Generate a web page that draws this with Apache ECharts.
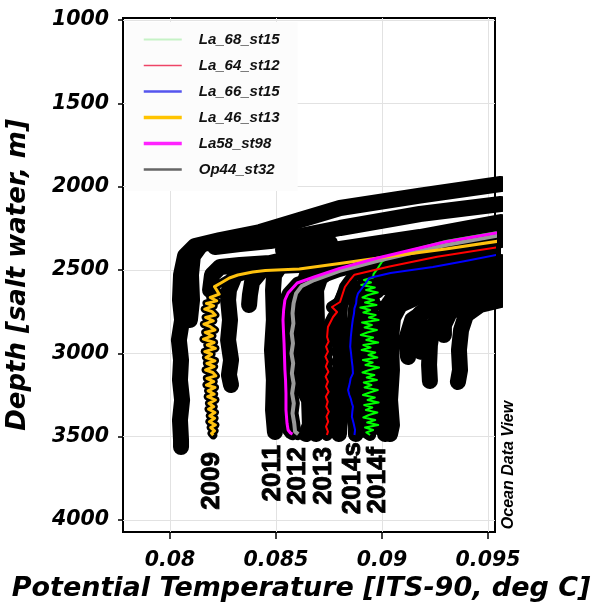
<!DOCTYPE html>
<html><head><meta charset="utf-8">
<script src="https://cdn.jsdelivr.net/npm/echarts@6/dist/echarts.min.js"></script>
<style>html,body{margin:0;padding:0;background:#fff}#chart{width:597px;height:603px}</style>
</head><body><div id="chart"></div>
<script>
// Axis ticks
const xTicks = [0.08, 0.085, 0.09, 0.095];
const yTicks = [1000, 1500, 2000, 2500, 3000, 3500, 4000];

// Highlighted stations: [potential temperature, depth]
const la68st15 = [[0.0956,2268],[0.0930,2326],[0.0905,2410],[0.0900,2450],[0.0898,2490],[0.0896,2525],
  [0.08958,2545],[0.08915,2560],[0.08948,2575],[0.08902,2590],[0.08966,2605],[0.08925,2620],[0.08980,2635],
  [0.08934,2650],[0.08908,2665],[0.08962,2680],[0.08920,2695],[0.08974,2710],[0.08898,2725],[0.08944,2740],
  [0.08912,2755],[0.08970,2770],[0.08938,2785],[0.08984,2800],[0.08906,2815],[0.08952,2830],[0.08918,2845],
  [0.08976,2860],[0.08930,2875],[0.08900,2890],[0.08958,2905],[0.08926,2920],[0.08982,2935],[0.08912,2950],
  [0.08946,2965],[0.08904,2980],[0.08968,2995],[0.08936,3010],[0.08978,3025],[0.08910,3040],[0.08956,3055],
  [0.08922,3070],[0.08986,3085],[0.08940,3100],[0.08908,3115],[0.08964,3130],[0.08928,3145],[0.08976,3160],
  [0.08914,3175],[0.08950,3190],[0.08918,3205],[0.08980,3220],[0.08942,3235],[0.08910,3250],[0.08966,3265],
  [0.08932,3280],[0.08984,3295],[0.08916,3310],[0.08954,3325],[0.08924,3340],[0.08978,3355],[0.08938,3370],
  [0.08912,3385],[0.08968,3400],[0.08930,3415],[0.08982,3430],[0.08920,3445],[0.08958,3460],[0.08926,3475],[0.08944,3490]];
const la64st12 = [[0.0956,2360],[0.0926,2420],[0.0903,2480],[0.0887,2528],[0.08849,2560],[0.08825,2602],
  [0.08802,2692],[0.08764,2722],[0.08788,2752],[0.08769,2782],[0.08745,2842],[0.08741,2902],[0.08748,2930],
  [0.08736,2960],[0.08745,2990],[0.08733,3020],[0.08744,3050],[0.08735,3080],[0.08747,3110],[0.08734,3140],
  [0.08745,3170],[0.08736,3200],[0.08748,3230],[0.08735,3260],[0.08744,3290],[0.08737,3320],[0.08749,3350],
  [0.08738,3380],[0.08746,3410],[0.08736,3440],[0.08745,3470],[0.08740,3490]];
const la66st15 = [[0.0956,2405],[0.0940,2445],[0.0924,2482],[0.0904,2518],[0.0894,2548],[0.0891,2602],
  [0.08887,2640],[0.08880,2670],[0.08878,2700],[0.08870,2730],[0.08868,2760],[0.08862,2800],[0.08858,2840],
  [0.08853,2900],[0.08850,2960],[0.08854,3000],[0.08857,3040],[0.08861,3080],[0.08863,3120],[0.08852,3150],
  [0.08848,3180],[0.08840,3220],[0.08846,3250],[0.08852,3270],[0.08858,3300],[0.08863,3320],[0.08860,3350],
  [0.08858,3380],[0.08866,3420],[0.08873,3460],[0.08870,3490]];
const la46st13 = [[0.0956,2325],[0.0930,2374],[0.0905,2416],[0.0880,2461],[0.0861,2494],[0.0845,2503],
  [0.0839,2512],[0.0832,2530],[0.0828,2548],[0.0824,2578],[0.0821,2600],[0.0822,2620],
  [0.08232,2645],[0.08190,2665],[0.08220,2685],[0.08172,2700],[0.08206,2715],[0.08164,2735],[0.08198,2750],
  [0.08214,2770],[0.08168,2785],[0.08204,2805],[0.08160,2825],[0.08190,2840],[0.08212,2860],[0.08166,2875],
  [0.08200,2895],[0.08158,2915],[0.08208,2935],[0.08176,2950],[0.08214,2970],[0.08164,2990],[0.08196,3005],
  [0.08170,3025],[0.08212,3045],[0.08174,3060],[0.08208,3080],[0.08168,3100],[0.08202,3115],[0.08216,3135],
  [0.08174,3150],[0.08206,3170],[0.08172,3190],[0.08212,3205],[0.08180,3225],[0.08208,3245],[0.08178,3260],
  [0.08214,3280],[0.08184,3300],[0.08206,3320],[0.08182,3335],[0.08212,3355],[0.08188,3375],[0.08210,3390],
  [0.08186,3410],[0.08214,3430],[0.08192,3445],[0.08210,3465],[0.08196,3480],[0.08204,3492]];
const la58st98 = [[0.0956,2272],[0.0930,2330],[0.0898,2428],[0.0880,2490],[0.0868,2542],[0.0860,2578],
  [0.08557,2638],[0.08542,2680],[0.08536,2740],[0.08533,2800],[0.08535,2860],[0.08538,2940],[0.08540,3020],
  [0.08542,3100],[0.08545,3160],[0.08547,3240],[0.08547,3340],[0.08552,3420],[0.08557,3460],[0.08568,3478],[0.08578,3485]];
const op44st32 = [[0.0956,2290],[0.0930,2350],[0.0898,2445],[0.0880,2505],[0.0868,2560],[0.0862,2598],
  [0.08595,2640],[0.08583,2700],[0.08578,2760],[0.08582,2820],[0.08574,2880],[0.08580,2940],[0.08573,3000],
  [0.08581,3060],[0.08575,3120],[0.08583,3180],[0.08576,3240],[0.08584,3300],[0.08578,3360],[0.08586,3420],
  [0.08590,3470],[0.08605,3485]];

// Remaining casts of the section, all drawn in black
const cast01 = [[0.0956,1984],[0.09179,2054],[0.08802,2128],[0.08613,2200],[0.08425,2272],[0.08236,2320],
  [0.08118,2356],[0.08071,2416],[0.08052,2530],[0.08047,2680],[0.08057,2800],[0.08042,2920],[0.08052,3040],
  [0.08047,3160],[0.08057,3280],[0.08047,3400],[0.08052,3520],[0.08052,3562]];
const cast02 = [[0.08142,2356],[0.08108,2416],[0.08099,2530],[0.08104,2680],[0.08094,2800]];
const cast03 = [[0.0956,2104],[0.09179,2164],[0.08802,2248],[0.08613,2296],[0.08472,2326],[0.08330,2344],[0.08212,2362]];
const cast04 = [[0.08755,2338],[0.08566,2368],[0.08533,2380]];
const cast05 = [[0.0956,2212],[0.09179,2302],[0.08802,2374],[0.08613,2416],[0.08472,2458],[0.08330,2470],
  [0.08236,2482],[0.08198,2530],[0.08189,2620]];
const cast06 = [[0.08401,2488],[0.08307,2530],[0.08278,2620],[0.08274,2680],[0.08283,2800],[0.08274,2920],
  [0.08288,3040],[0.08278,3130],[0.08288,3190]];
const cast07 = [[0.08434,2500],[0.08387,2572],[0.08377,2650],[0.08373,2710]];
const cast08 = [[0.0956,2248],[0.09179,2338],[0.08802,2416],[0.08613,2452],[0.08519,2476],[0.08491,2530],
  [0.08486,2620],[0.08490,2800],[0.08481,2980],[0.08490,3160],[0.08486,3340],[0.08495,3472]];
const cast09 = [[0.0956,2284],[0.09179,2368],[0.08849,2428],[0.08708,2464],[0.08651,2512],[0.08632,2584],
  [0.08627,2680],[0.08637,2860],[0.08623,3040],[0.08632,3220],[0.08656,3280],[0.08660,3430],[0.08642,3484]];
const cast10 = [[0.0956,2320],[0.09179,2404],[0.08896,2464],[0.08755,2500],[0.08708,2548],[0.08689,2620],
  [0.08693,2800],[0.08684,2980],[0.08693,3160],[0.08684,3340],[0.08689,3484]];
const cast11 = [[0.0956,2452],[0.09274,2512],[0.09038,2578],[0.08896,2608],[0.08825,2644],[0.08802,2710],
  [0.08797,2860],[0.08807,3040],[0.08792,3220],[0.08802,3400],[0.08797,3484]];
const cast12 = [[0.0956,2476],[0.09274,2536],[0.09085,2584],[0.08943,2620],[0.08887,2668],[0.08877,2740],
  [0.08882,2920],[0.08873,3100],[0.08882,3280],[0.08877,3484]];
const cast13 = [[0.0956,2500],[0.09274,2560],[0.09132,2608],[0.09061,2650],[0.09028,2710],[0.09014,2800],
  [0.09009,2980],[0.09019,3160],[0.09005,3340],[0.09014,3484]];
const cast14 = [[0.0956,2548],[0.09321,2608],[0.09179,2656],[0.09085,2710],[0.09052,2788],[0.09042,2920],
  [0.09047,3100],[0.09038,3280],[0.09047,3430],[0.09038,3484]];
const cast15 = [[0.0956,2596],[0.09368,2656],[0.09226,2728],[0.09142,2800],[0.09113,2920],[0.09123,3022]];
const cast16 = [[0.0956,2632],[0.09415,2680],[0.09297,2740],[0.09241,2830],[0.09226,2950],[0.09222,3070],[0.09226,3166]];
const cast17 = [[0.0956,2656],[0.09415,2698],[0.09321,2752],[0.09292,2830],[0.09292,2890]];
const cast18 = [[0.0956,2680],[0.09462,2710],[0.09396,2770],[0.09373,2860],[0.09363,2980],[0.09368,3100],[0.09358,3172]];
const cast19 = [[0.0956,2610],[0.0940,2660],[0.0925,2700],[0.0918,2760],[0.0917,2860],[0.0918,2990]];

// Year tags at the foot of each highlighted cast
const yearNames = ['2009', '2011', '2012', '2013', '2014s', '2014f'];
const yearTemp = [0.08198, 0.08486, 0.08604, 0.08726, 0.08863, 0.08981];
const yearDepth = [3592, 3550, 3562, 3562, 3532, 3562];

const blackCasts = [cast01, cast02, cast03, cast04, cast05, cast06, cast07, cast08, cast09,
  cast10, cast11, cast12, cast13, cast14, cast15, cast16, cast17, cast18, cast19];

const stations = [
  { name: 'La_68_st15', data: la68st15, color: '#00ff00', width: 2, halo: 12, legendColor: '#c6f2c6', legendWidth: 2 },
  { name: 'La_64_st12', data: la64st12, color: '#ff0000', width: 2, halo: 12, legendColor: '#ee4466', legendWidth: 1.5 },
  { name: 'La_66_st15', data: la66st15, color: '#0000ff', width: 2, halo: 12, legendColor: '#5555ee', legendWidth: 2.5 },
  { name: 'La_46_st13', data: la46st13, color: '#ffc20e', width: 3, halo: 8, legendColor: '#ffc400', legendWidth: 3.5 },
  { name: 'La58_st98', data: la58st98, color: '#ff00ff', width: 3, halo: 12, legendColor: '#ff22ff', legendWidth: 3.5 },
  { name: 'Op44_st32', data: op44st32, color: '#9a9a9a', width: 4, halo: 12, legendColor: '#666666', legendWidth: 2.5 }
];
const drawOrder = ['La_68_st15', 'La_66_st15', 'La_64_st12', 'Op44_st32', 'La_46_st13', 'La58_st98'];

const italicFont = { fontFamily: 'DejaVu Sans', fontWeight: 'bold', fontStyle: 'italic', color: '#000' };

const series = [];
blackCasts.forEach(function (c) {
  series.push({ type: 'line', data: c, symbol: 'none', silent: true, animation: false, z: 2,
    lineStyle: { color: '#000', width: 16, cap: 'round', join: 'round' } });
});
stations.forEach(function (s) {
  series.push({ type: 'line', data: s.data, symbol: 'none', silent: true, animation: false, z: 3,
    lineStyle: { color: '#000', width: s.halo, cap: 'round', join: 'round' } });
});
drawOrder.forEach(function (n) {
  const s = stations.find(function (t) { return t.name === n; });
  series.push({ type: 'line', name: s.name, data: s.data, symbol: 'none', silent: true, animation: false, z: 4,
    color: s.color, lineStyle: { color: s.color, width: s.width, join: 'round' } });
});
// Year tags, placed through the axis scales and read upwards
series.push({
  type: 'custom', silent: true, animation: false, z: 5, clip: false,
  data: yearNames.map(function (n, i) { return [yearTemp[i], yearDepth[i]]; }),
  renderItem: function (params, api) {
    const p = api.coord([api.value(0), api.value(1)]);
    return {
      type: 'text', x: p[0], y: p[1], rotation: Math.PI / 2,
      style: { text: yearNames[params.dataIndex], fill: '#000', stroke: '#000', lineWidth: 0.9,
        fontFamily: 'Liberation Sans', fontWeight: 'bold', fontSize: 26, align: 'right', verticalAlign: 'middle' }
    };
  }
});

const chart = echarts.init(document.getElementById('chart'), null, { renderer: 'canvas' });
chart.setOption({
  backgroundColor: '#fff',
  animation: false,
  grid: { left: 123, top: 18, right: 102, bottom: 71, show: true, borderColor: '#000', borderWidth: 2,
    containLabel: false, outerBoundsMode: 'none' },
  legend: {
    data: stations.map(function (s) {
      return { name: s.name, itemStyle: { opacity: 0 }, lineStyle: { color: s.legendColor, width: s.legendWidth } };
    }),
    selectedMode: false, orient: 'vertical', left: 126, top: 22,
    padding: [10, 18, 14, 16], itemWidth: 38, itemHeight: 14, itemGap: 11,
    backgroundColor: '#fcfcfc',
    textStyle: { fontFamily: 'Liberation Sans', fontWeight: 'bold', fontStyle: 'italic', fontSize: 15,
      color: '#111', padding: [0, 0, 0, 12] }
  },
  xAxis: {
    type: 'value', min: 0.077783, max: 0.09533,
    name: 'Potential Temperature [ITS-90, deg C]', nameLocation: 'middle', nameGap: 33,
    nameTextStyle: Object.assign({ fontSize: 27, padding: [0, 16, 0, 0] }, italicFont),
    axisLine: { show: false },
    axisTick: { show: true, customValues: xTicks, length: 7, lineStyle: { color: '#000', width: 1.5 } },
    axisLabel: { customValues: xTicks, margin: 19, fontSize: 20.5, fontFamily: 'DejaVu Sans',
      fontWeight: 'bold', fontStyle: 'italic', color: '#000', formatter: function (v) { return String(v); } },
    splitLine: { show: true, lineStyle: { color: '#e2e2e2', width: 1 } }
  },
  yAxis: {
    type: 'value', inverse: true, min: 988, max: 4072,
    name: 'Depth [salt water, m]', nameLocation: 'middle', nameGap: 92, nameRotate: 90,
    nameTextStyle: Object.assign({ fontSize: 26 }, italicFont),
    axisLine: { show: false },
    axisTick: { show: true, customValues: yTicks, length: 5, lineStyle: { color: '#000', width: 1.5 } },
    axisLabel: { customValues: yTicks, margin: 14, fontSize: 20.5, fontFamily: 'DejaVu Sans',
      fontWeight: 'bold', fontStyle: 'italic', color: '#000', formatter: function (v) { return String(v); } },
    splitLine: { show: true, lineStyle: { color: '#e2e2e2', width: 1 } }
  },
  graphic: [{
    type: 'text', x: 509, y: 465, rotation: Math.PI / 2, silent: true,
    style: { text: 'Ocean Data View', fontFamily: 'Liberation Sans', fontWeight: 'bold', fontStyle: 'italic',
      fontSize: 16, fill: '#000', align: 'center', verticalAlign: 'middle' }
  }],
  series: series
});
</script>
</body></html>
